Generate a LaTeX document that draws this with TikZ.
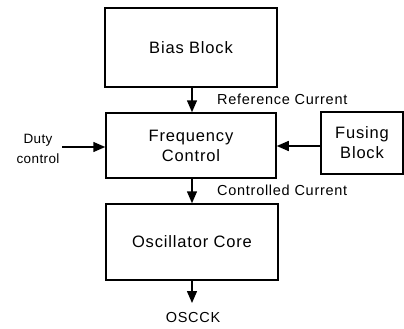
\documentclass[tikz,border=0pt]{standalone}
\usepackage{fontspec}
\setmainfont{Liberation Sans}
\usetikzlibrary{arrows.meta}
\begin{document}
\begin{tikzpicture}[x=1pt,y=-1pt,
  blk/.style={draw,line width=1.5pt,rectangle,inner sep=0pt,align=center,font=\fontsize{16.5}{20}\selectfont\addfontfeatures{LetterSpace=5}},
  lbl/.style={inner sep=0pt,font=\fontsize{14.5}{17}\selectfont\addfontfeatures{LetterSpace=5}},
  arr/.style={line width=1.5pt,-{Triangle[length=12pt,width=10pt]}}]
\useasboundingbox (0,0) rectangle (404,329);
\node[blk,minimum width=172pt,minimum height=79pt] (bias) at (191,47.5) {Bias Block};
\node[blk,minimum width=170pt,minimum height=65pt] (freq) at (191,145.5) {Frequency\\Control};
\node[blk,minimum width=82pt,minimum height=62pt] (fus) at (362,143) {Fusing\\Block};
\node[blk,minimum width=172pt,minimum height=76pt] (osc) at (192,242) {Oscillator Core};
\node[lbl,anchor=west] (refc) at (217,99) {Reference Current};
\node[lbl,anchor=west] (ctlc) at (217,190) {Controlled Current};
\node[lbl,align=center,font=\fontsize{13.5}{20}\selectfont\addfontfeatures{LetterSpace=3}] (duty) at (38,149) {Duty\\control};
\node[lbl] (oscck) at (193,318) {OSCCK};
\coordinate (dutyend) at (62,147);
\coordinate (out) at (192,303);
\draw[arr] (bias.south -| 192,0) -- (freq.north -| 192,0);
\draw[arr] (freq.south -| 192,0) -- (osc.north -| 192,0);
\draw[arr] (osc.south) -- (out);
\draw[arr] (dutyend) -- (dutyend -| freq.west);
\draw[arr] (fus.west |- 0,146) -- (freq.east |- 0,146);
\end{tikzpicture}
\end{document}
